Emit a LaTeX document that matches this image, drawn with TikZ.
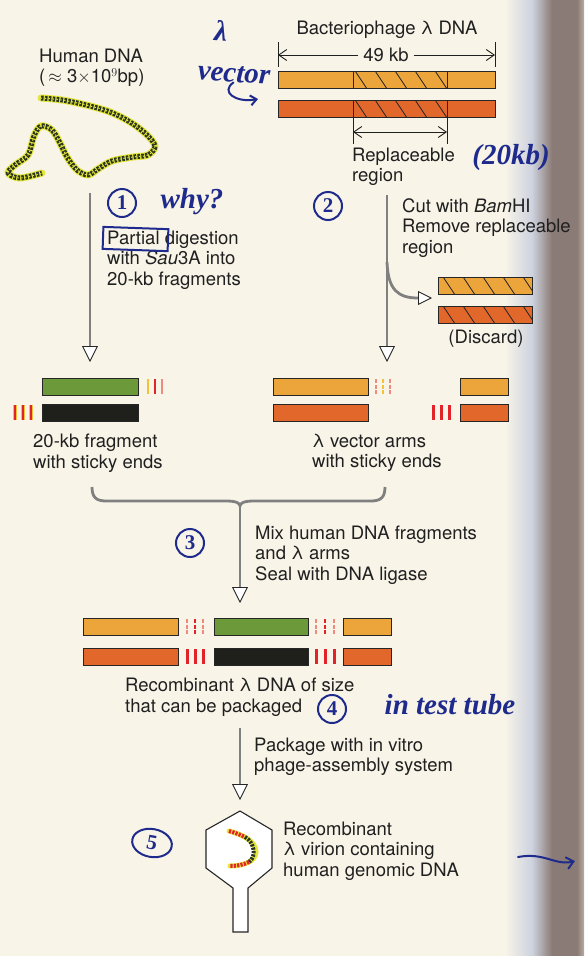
\documentclass[tikz,border=0pt]{standalone}
\usepackage{fontspec}
\setmainfont{TeX Gyre Heros}
\newfontfamily\handfont{Liberation Serif}
\usetikzlibrary{arrows.meta,shapes.geometric}

\definecolor{paper}{HTML}{F8F4E8}
\definecolor{haze}{HTML}{CDD2DE}
\definecolor{spine}{HTML}{8B7B76}
\definecolor{inktext}{HTML}{202020}
\definecolor{penblue}{HTML}{1E2A8C}
\definecolor{orA}{HTML}{ECA53A}
\definecolor{orB}{HTML}{E2672B}
\definecolor{frgreen}{HTML}{6C9A3B}
\definecolor{frblack}{HTML}{1F201B}
\definecolor{stred}{HTML}{E2242A}
\definecolor{styel}{HTML}{F2C23A}
\definecolor{stpink}{HTML}{EE8A7E}
\definecolor{dnayel}{HTML}{E4E63C}
\definecolor{dnadark}{HTML}{2B3620}

\tikzset{
  txt/.style={anchor=west, align=left, inner sep=0pt, text=inktext,
    font=\fontsize{18.5}{20.5}\selectfont},
  bar/.style={draw=black!85, line width=0.8pt, anchor=north west,
    inner sep=0pt, minimum height=17pt},
  hatch/.style={path picture={
    \foreach \o in {-40,-20,...,120}
      \draw[black!85, line width=0.8pt]
        ([xshift={(\o+#1)*1pt}]path picture bounding box.north west) -- ++(12pt,-18pt);}},
  flow/.style={draw=black!50, line width=2.8pt,
    -{Triangle[length=16pt,width=16pt,fill=white,color=black!85,line width=0.9pt]}},
  dimline/.style={draw=inktext, line width=0.9pt},
  thin end/.style={line width=1.7pt},
  thick end/.style={line width=3pt},
  hglow/.style={draw=dnayel, line width=7pt, line cap=round, line join=round},
  hbeads/.style={draw=dnadark, line width=5pt, dash pattern=on 2.6pt off 1.3pt, line join=round},
  hcore/.style={draw=dnayel, line width=1pt, dash pattern=on 1.2pt off 2.7pt},
  vglow/.style={draw=dnayel, line width=5pt, line cap=round},
  vbeads/.style={line width=4pt, dash pattern=on 2.2pt off 1.2pt},
  penline/.style={draw=penblue, line width=2pt, line cap=round},
  ring/.style={circle, penline, text=penblue, inner sep=0pt, minimum size=28pt,
    font=\handfont\bfseries\fontsize{21}{21}\selectfont},
  scrawl/.style={text=penblue, inner sep=0pt,
    font=\handfont\bfseries\itshape\fontsize{29}{29}\selectfont},
}

\begin{document}
\begin{tikzpicture}[x=1pt,y=-1pt]
  \useasboundingbox (0,0) rectangle (584,956);
  \fill[paper] (0,0) rectangle (584,956);
  \shade[left color=paper, right color=haze] (505,0) rectangle (532,956);
  \shade[left color=haze, right color=spine] (532,0) rectangle (552,956);
  \fill[spine] (552,0) rectangle (577,956);
  \shade[left color=spine, right color=spine!60!paper] (577,0) rectangle (584,956);

  % human genome
  \node[txt] (hum) at (39,68) {Human DNA\\(\,$\approx$ 3$\times$10$^{9}$bp)};
  \foreach \sty in {hglow,hbeads,hcore}
    \draw[\sty] plot[smooth, tension=0.55] coordinates {(41,98) (62,100) (86,105) (110,112) (130,122) (146,134) (155,146) (148,155) (133,157) (112,161) (98,169) (88,175) (77,170) (67,157) (60,143) (52,130) (41,126) (34,136) (28,155) (15,165) (8,173) (20,178) (42,173)};

  % lambda genome
  \node[txt, anchor=center] (phT) at (387,30) {Bacteriophage λ DNA};
  \node[txt, anchor=center, fill=paper, inner xsep=5pt] (kb) at (386,55) {49 kb};
  \coordinate (dL) at (278,55);
  \coordinate (dR) at (495,55);
  \draw[dimline] (278,42) -- (278,67) (495,42) -- (495,67);
  \draw[dimline, -{Straight Barb[length=8pt,width=11pt]}] (kb) -- (dL);
  \draw[dimline, -{Straight Barb[length=8pt,width=11pt]}] (kb) -- (dR);
  \node[bar, fill=orA, minimum width=217pt] (phA) at (278,71) {};
  \node[bar, fill=orB, minimum width=217pt] (phB) at (278,100) {};
  \node[bar, minimum width=94pt, hatch=2] (hzA) at (353,71) {};
  \node[bar, minimum width=94pt, hatch=2] (hzB) at (353,100) {};
  \coordinate (rL) at (353,132);
  \coordinate (rR) at (447,132);
  \draw[dimline] (353,117) -- (353,144) (447,117) -- (447,144);
  \draw[dimline, {Straight Barb[length=8pt,width=11pt]}-{Straight Barb[length=8pt,width=11pt]}] (rL) -- (rR);
  \node[txt] (repT) at (352,167) {Replaceable\\region};

  % step 1
  \coordinate (s1a) at (90,193);
  \coordinate (s1b) at (90,362);
  \draw[flow] (s1a) -- (s1b);
  \node[txt] (t1) at (107,260) {Partial digestion\\with \textit{Sau}3A into\\20-kb fragments};

  % step 2
  \coordinate (s2a) at (387,195);
  \coordinate (s2b) at (387,362);
  \coordinate (s2c) at (387,262);
  \coordinate (s2d) at (432,298);
  \draw[flow] (s2a) -- (s2b);
  \draw[flow, -{Triangle[length=14pt,width=14pt,fill=white,color=black!85,line width=0.9pt]}]
    (s2c) .. controls (388,290) and (398,298) .. (s2d);
  \node[txt] (t2) at (402,228) {Cut with \textit{Bam}HI\\Remove replaceable\\region};
  \node[bar, fill=orA, minimum width=94pt, hatch=5] (dsA) at (438,277) {};
  \node[bar, fill=orB, minimum width=94pt, hatch=5] (dsB) at (438,306) {};
  \node[txt, anchor=center] (dsT) at (486,339) {(Discard)};

  % fragments and arms
  \node[bar, fill=frgreen, minimum width=96pt] (frG) at (42,378) {};
  \node[bar, fill=frblack, minimum width=96pt] (frK) at (42,404) {};
  \foreach \x/\c in {148/styel,155/stred,162/stpink}
    \draw[thin end, \c] (\x,379) -- (\x,394);
  \foreach \x in {15,23,31} {
    \draw[styel, line width=4pt] (\x,405) -- (\x,420);
    \draw[stred, line width=2pt] (\x,405) -- (\x,420);
  }
  \node[bar, fill=orA, minimum width=95pt] (arA) at (273,378) {};
  \node[bar, fill=orB, minimum width=95pt] (arB) at (273,404) {};
  \node[bar, fill=orA, minimum width=48pt] (arC) at (460,378) {};
  \node[bar, fill=orB, minimum width=48pt] (arD) at (460,404) {};
  \foreach \x/\c in {376/stpink,383/styel,390/stpink}
    \draw[thin end, \c, dash pattern=on 4pt off 1.5pt] (\x,379) -- (\x,394);
  \foreach \x in {433,441,449}
    \draw[thick end, stred] (\x,405) -- (\x,420);
  \node[txt] (frT) at (33,453) {20-kb fragment\\with sticky ends};
  \node[txt] (arT) at (312,453) {λ vector arms\\with sticky ends};

  % step 3
  \coordinate (bL) at (92,487);
  \coordinate (bR) at (385,487);
  \coordinate (bC) at (240,506);
  \coordinate (s3b) at (240,603);
  \draw[draw=black!50, line width=2.8pt] (bL) .. controls (92,497) and (96,501) .. (106,501) -- (226,501)
    .. controls (236,501) and (240,503) .. (bC)
    .. controls (240,503) and (244,501) .. (254,501) -- (371,501)
    .. controls (381,501) and (385,497) .. (bR);
  \draw[flow] (bC) -- (s3b);
  \node[txt] (t3) at (255,555) {Mix human DNA fragments\\and λ arms\\Seal with DNA ligase};

  % recombinant
  \node[bar, fill=orA, minimum width=95pt] (rcA) at (83,618) {};
  \node[bar, fill=frgreen, minimum width=94pt] (rcG) at (214,618) {};
  \node[bar, fill=orA, minimum width=48pt] (rcC) at (343,618) {};
  \node[bar, fill=orB, minimum width=95pt] (rcB) at (83,648) {};
  \node[bar, fill=frblack, minimum width=94pt] (rcK) at (214,648) {};
  \node[bar, fill=orB, minimum width=48pt] (rcD) at (343,648) {};
  \foreach \x/\c in {187/stpink,195/stred,203/stpink,316/stpink,325/stred,334/stpink}
    \draw[thin end, \c, dash pattern=on 4pt off 1.5pt] (\x,619) -- (\x,634);
  \foreach \x in {187,195,203,316,325,334}
    \draw[thick end, stred] (\x,649) -- (\x,664);
  \node[txt] (rcT) at (125,697) {Recombinant λ DNA of size\\that can be packaged};

  % step 4
  \coordinate (s4a) at (240,728);
  \coordinate (s4b) at (240,800);
  \draw[flow] (s4a) -- (s4b);
  \node[txt] (t4) at (254,757) {Package with in vitro\\phage-assembly system};

  % virion
  \draw[black!85, line width=1.1pt, fill=white] (240,811) -- (272,830) -- (272,868) -- (248,888) -- (248,932)
    -- (233,932) -- (233,888) -- (206,868) -- (206,830) -- cycle;
  \draw[vglow] (229,831) .. controls (240,834) and (256,840) .. (256,852) .. controls (256,862) and (242,866) .. (230,866);
  \draw[vbeads, stred] (229,831) .. controls (236,833) and (241,835) .. (245,837);
  \draw[vbeads, dnadark] (245,837) .. controls (254,842) and (257,856) .. (249,862);
  \draw[vbeads, stred] (249,862) .. controls (243,865) and (236,866) .. (230,866);
  \node[txt] (t5) at (283,851) {Recombinant\\λ virion containing\\human genomic DNA};

  % pen notes
  \node[scrawl, rotate=-4] (lam) at (221,31) {λ};
  \node[scrawl, rotate=-4] (vec) at (234,74) {vector};
  \coordinate (vecend) at (258,99);
  \draw[penline, -{Straight Barb[length=6pt,width=10pt]}] (vec.south) .. controls (220,92) and (236,103) .. (vecend);
  \node[scrawl] (kb20) at (511,158) {(20kb)};
  \node[ring] (n1) at (122,203) {1};
  \node[scrawl] (why) at (192,202) {why?};
  \draw[penline, rotate around={-2:(135,239)}] (103,228) rectangle (168,250);
  \node[ring] (n2) at (328,206) {2};
  \node[ring] (n3) at (190,543) {3};
  \node[ring] (n4) at (332,709) {4};
  \node[scrawl] (tube) at (450,705) {in test tube};
  \node[ring, ellipse, minimum width=40pt, minimum height=28pt, rotate=-10] (n5) at (152,843) {5};
  \coordinate (sp1) at (518,857);
  \coordinate (sp2) at (575,861);
  \draw[penline, -{Straight Barb[length=7pt,width=12pt]}] (sp1) .. controls (545,852) and (555,866) .. (sp2);
\end{tikzpicture}
\end{document}
